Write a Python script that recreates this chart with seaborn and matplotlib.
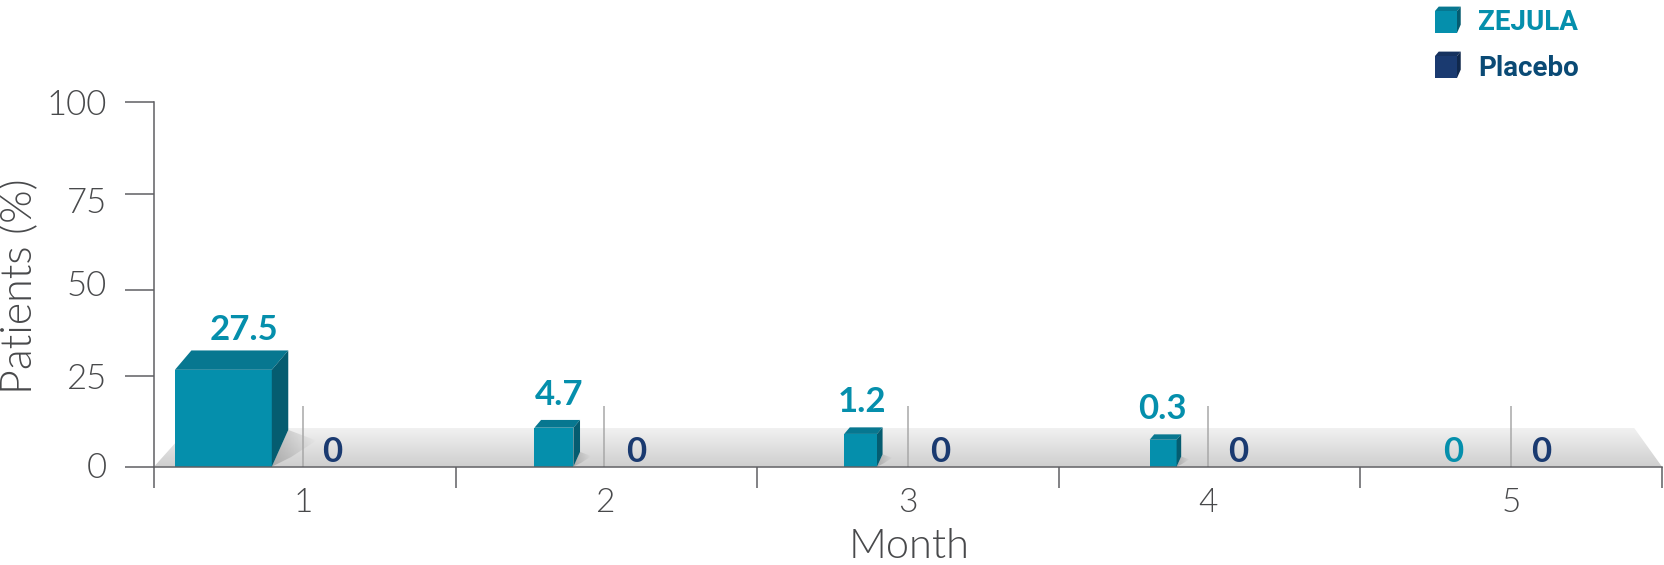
import numpy as np
import pandas as pd
import matplotlib
matplotlib.use("Agg")
import matplotlib.pyplot as plt
from matplotlib.patches import Polygon
from matplotlib.transforms import Affine2D, ScaledTranslation
import seaborn as sns

months = [1, 2, 3, 4, 5]
zejula_labels = ["27.5", "4.7", "1.2", "0.3", "0"]
placebo_labels = ["0", "0", "0", "0", "0"]
# the cubes in the original are not to scale with their labels,
# so these are the heights
zejula_heights = [26.6, 10.7, 9.0, 7.4, 0]
placebo_heights = [0, 0, 0, 0, 0]
y_tick_labels = ["0", "25", "50", "75", "100"]
# the original axis is slightly uneven, the 50 tick sits low
y_tick_positions = [0, 24.9, 48.6, 74.9, 100]

TEAL = "#058fac"
TEAL_TOP = "#077790"
TEAL_SIDE = "#055c70"
NAVY = "#1a3a70"
NAVY_TOP = "#16325f"
NAVY_SIDE = "#10284c"
GREY = "#48494b"

W, H = 1664, 565
AX_LEFT, AX_RIGHT, AX_TOP, AX_BASE = 154, 1662, 102.5, 466.7
PX_X = (AX_RIGHT - AX_LEFT) / 5      # pixels per month
PX_Y = (AX_BASE - AX_TOP) / 100      # pixels per percent

# layout nudges in pixels
sep_nudge = [-2, -2, 0, -2, 0]
label_shift = [59, 45, 46, 45]
zero_shift = [29, 32, 32, 31, 30]
ytick_nudge = [-2, 0, -7, 6, 0]

sns.set_style("white")
plt.rcParams["font.family"] = ["Lato", "DejaVu Sans"]

df = pd.DataFrame({
    "Month": months * 2,
    "Patients": zejula_heights + placebo_heights,
    "Arm": ["ZEJULA"] * 5 + ["Placebo"] * 5,
})

fig = plt.figure(figsize=(W / 100, H / 100), dpi=100)
ax = fig.add_axes([AX_LEFT / W, 1 - AX_BASE / H, (AX_RIGHT - AX_LEFT) / W, (AX_BASE - AX_TOP) / H])
ax.patch.set_alpha(0)
px = Affine2D().scale(1 / W, -1 / H).translate(0, 1) + fig.transFigure

sns.barplot(data=df, x="Month", y="Patients", hue="Arm", native_scale=True, dodge=False, saturation=1,
            palette={"ZEJULA": TEAL, "Placebo": NAVY}, legend=False, linewidth=0, ax=ax)

sep_px = [AX_LEFT + (m - 0.5) * PX_X + n for m, n in zip(months, sep_nudge)]
sep_x = [m + n / PX_X for m, n in zip(months, sep_nudge)]


def gradient_patch(poly, rgba):
    im = ax.imshow(rgba, extent=[poly[:, 0].min(), poly[:, 0].max(), poly[:, 1].min(), poly[:, 1].max()],
                   aspect="auto", transform=ax.transData, zorder=0, origin="upper", interpolation="bilinear")
    clip = Polygon(poly, closed=True, transform=ax.transData, fill=False, lw=0)
    ax.add_patch(clip)
    im.set_clip_path(clip)


def cube_shell(left, right, top, base, top_color, side_color):
    # left/right/top/base in pixels of the figure
    w = right - left
    dx, dy = 0.17 * w, 0.2 * w
    ax.add_patch(Polygon([(left, top), (left + dx, top - dy), (right + dx, top - dy), (right, top)],
                         color=top_color, lw=0, transform=px, clip_on=False, zorder=3))
    ax.add_patch(Polygon([(right, top), (right + dx, top - dy), (right + dx, base - dy * 1.9), (right, base)],
                         color=side_color, lw=0, transform=px, clip_on=False, zorder=3))


# floor
floor = np.array([[0.5, 0], [0.5 + 35 / PX_X, 10.7], [5.5 - 28 / PX_X, 10.7], [5.5, 0]])
floor_grad = np.linspace(0.945, 0.81, 64).reshape(-1, 1)
floor_rgba = np.dstack([floor_grad, floor_grad, floor_grad, np.ones_like(floor_grad)])
gradient_patch(floor, floor_rgba)

# cubes: seaborn draws the front face, here it gets its width and the other two faces
teal_bars = ax.containers[0]
for i, bar in enumerate(teal_bars):
    h = bar.get_height()
    if h <= 0:
        continue
    side = h * PX_Y
    right = sep_px[i] - 31
    left = right - side
    bar.set_x(0.5 + (left - AX_LEFT) / PX_X)
    bar.set_width(side / PX_X)
    bar.set_zorder(3)
    top = AX_BASE - side
    cube_shell(left, right, top, AX_BASE, TEAL_TOP, TEAL_SIDE)

    # shadow falling to the right of the cube
    pts = [(right, AX_BASE), (right + 0.17 * side, AX_BASE - 0.38 * side),
           (right + 0.46 * side, AX_BASE - 0.27 * side), (right + 0.2 * side, AX_BASE - 0.1 * side)]
    shadow = np.array([[0.5 + (x - AX_LEFT) / PX_X, (AX_BASE - y) / PX_Y] for x, y in pts])
    fade = np.linspace(0.4, 0, 64).reshape(1, -1)
    shade = np.dstack([np.full_like(fade, 0.45)] * 3 + [fade])
    gradient_patch(shadow, shade)

    ax.text(sep_px[i] - label_shift[i], top - 0.2 * side - 25 + (5 if i == 0 else 0),
            zejula_labels[i], color=TEAL, fontsize=25, fontweight="bold", ha="center", va="center",
            transform=px, zorder=4)

# separators and the zero labels
ax.vlines(sep_x, 0, 16.6, color="#a8a8a8", lw=1.1, zorder=2)
for i, m in enumerate(months):
    ax.text(sep_px[i] + zero_shift[i], 452, placebo_labels[i], color=NAVY, fontsize=25, fontweight="bold",
            ha="center", va="center", transform=px, zorder=4)
ax.text(sep_px[4] - 58, 452, zejula_labels[4], color=TEAL, fontsize=25, fontweight="bold",
        ha="center", va="center", transform=px, zorder=4)

# axes
ax.set_xlim(0.5, 5.5)
ax.set_ylim(0, 100)
ax.set_yticks(y_tick_positions)
ax.set_yticklabels(y_tick_labels)
ax.set_xticks(np.arange(0.5, 6))
ax.set_xticklabels([])
ax.set_xticks(sep_x, minor=True)
ax.set_xticklabels(months, minor=True)
ax.tick_params(axis="x", which="major", length=15, width=1.1, color="#5f5f63", bottom=True)
ax.tick_params(axis="x", which="minor", length=0, pad=15, labelsize=24, labelcolor=GREY)
ax.tick_params(axis="y", length=21, width=1.1, color="#5f5f63", left=True, pad=13, labelsize=25, labelcolor=GREY)
for lab in ax.get_xticklabels(minor=True):
    lab.set_fontweight(300)
for lab, n in zip(ax.get_yticklabels(), ytick_nudge):
    lab.set_fontweight(300)
    lab.set_transform(lab.get_transform() + ScaledTranslation(0, -n / 100, fig.dpi_scale_trans))
sns.despine(ax=ax)
for s in ["left", "bottom"]:
    ax.spines[s].set_color("#5f5f63")
    ax.spines[s].set_linewidth(1.1)
    ax.spines[s].set_zorder(5)
ax.set_xlabel("")
ax.set_ylabel("")
fig.text(20 / W, 1 - 286 / H, "Patients (%)", rotation=90, color=GREY, fontsize=31, fontweight=300,
         ha="center", va="center")
fig.text(909 / W, 1 - 547 / H, "Month", color=GREY, fontsize=30, fontweight=300, ha="center", va="center")

# legend
for base, label, face, topc, sidec, txt in [(33, "ZEJULA", TEAL, TEAL_TOP, TEAL_SIDE, TEAL),
                                           (78, "Placebo", NAVY, NAVY_TOP, NAVY_SIDE, "#0a4a75")]:
    ax.add_patch(Polygon([(1435, base), (1435, base - 22), (1457, base - 22), (1457, base)],
                         color=face, lw=0, transform=px, clip_on=False, zorder=3))
    cube_shell(1435, 1457, base - 22, base, topc, sidec)
    ax.text(1478, base - 10, label, color=txt, fontsize=20, fontweight="bold", family=["Roboto", "DejaVu Sans"],
            ha="left", va="center", transform=px)

fig.savefig("out.png", dpi=100)
